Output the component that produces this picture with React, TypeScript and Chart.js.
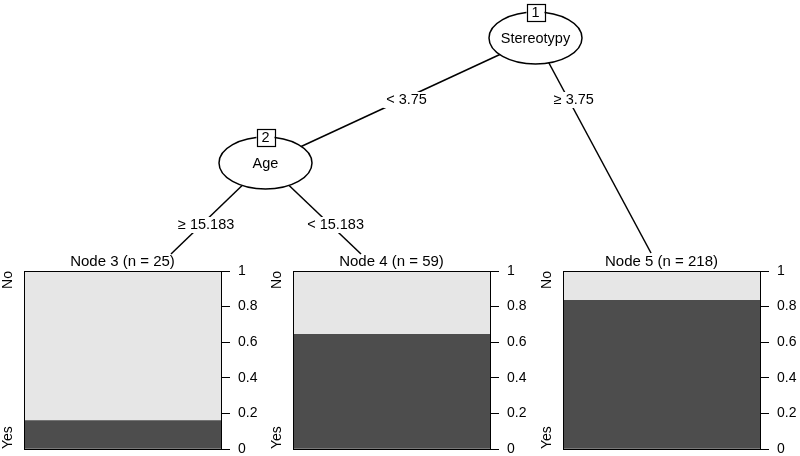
import React, { useEffect, useRef } from "react";
import { Chart, registerables } from "chart.js";
Chart.register(...registerables);

const FONT = '"Liberation Sans", Arial, Helvetica, sans-serif';
const FS_TREE = 14.5;
const FS_TITLE = 15;
const FS_TICK = 14;

// ---------- data ----------
const innerIds = [1, 2];
const innerVars = ["Stereotypy", "Age"];
const edgeFrom = [1, 1, 2, 2];
const edgeTo = [2, 5, 3, 4];
const edgeLabels = ["< 3.75", "\u2265 3.75", "\u2265 15.183", "< 15.183"];

const terminalIds = [3, 4, 5];
const terminalN = [25, 59, 218];
const classLabels = ["No", "Yes"];
const propYes = [0.16, 0.644, 0.835];
const propNo = [0.84, 0.356, 0.165];
const yTicks = [0, 0.2, 0.4, 0.6, 0.8, 1];

// ---------- layout (tree coordinates in a 800 x 456 frame) ----------
const nodePos: Record<number, { x: number; y: number }> = {
  1: { x: 535.5, y: 38 },
  2: { x: 265.5, y: 163 },
  3: { x: 171, y: 254 },
  4: { x: 361, y: 254 },
  5: { x: 651, y: 253 },
};
const edgeLabelLevel = [100, 100, 225, 225];
const ELL_RX = 46.5;
const ELL_RY = 26;
const panelLeft = [0, 269, 539];
const PANEL_TOP = 250;
const PANEL_H = 206;
const BOX_PAD_LEFT = 24;
const BOX_W = 197;
const RIGHT_AXIS_W = 40;

function TreeCanvas() {
  const ref = useRef<HTMLCanvasElement>(null);
  useEffect(() => {
    const datasets = edgeFrom.map((f, i) => ({
      type: "scatter" as const,
      data: [nodePos[f], nodePos[edgeTo[i]]],
      showLine: true,
      borderColor: "#000",
      borderWidth: 1.5,
      pointRadius: 0,
      fill: false,
    }));
    const treePlugin = {
      id: "tree",
      afterDatasetsDraw(chart: any) {
        const ctx = chart.ctx;
        const xs = chart.scales.x;
        const ys = chart.scales.y;
        ctx.save();
        ctx.font = `${FS_TREE}px ${FONT}`;
        ctx.textAlign = "center";
        ctx.textBaseline = "middle";
        // edge labels
        edgeFrom.forEach((f, i) => {
          const a = nodePos[f];
          const b = nodePos[edgeTo[i]];
          const ly = edgeLabelLevel[i];
          const t = (ly - a.y) / (b.y - a.y);
          const lx = a.x + (b.x - a.x) * t;
          const px = xs.getPixelForValue(lx) + 5;
          const py = ys.getPixelForValue(ly);
          const w = ctx.measureText(edgeLabels[i]).width;
          ctx.fillStyle = "#fff";
          ctx.fillRect(px - w / 2 - 3, py - 8, w + 6, 16);
          ctx.fillStyle = "#000";
          ctx.fillText(edgeLabels[i], px, py);
        });
        // inner nodes
        innerIds.forEach((id, i) => {
          const p = nodePos[id];
          const cx = xs.getPixelForValue(p.x);
          const cy = ys.getPixelForValue(p.y);
          ctx.beginPath();
          ctx.ellipse(cx, cy, ELL_RX, ELL_RY, 0, 0, Math.PI * 2);
          ctx.fillStyle = "#fff";
          ctx.fill();
          ctx.lineWidth = 1.5;
          ctx.strokeStyle = "#000";
          ctx.stroke();
          ctx.fillStyle = "#000";
          ctx.fillText(innerVars[i], cx, cy + 1);
          // id box
          const bw = 18, bh = 17;
          const by = cy - ELL_RY;
          ctx.fillStyle = "#fff";
          ctx.fillRect(cx - bw / 2, by - bh / 2, bw, bh);
          ctx.lineWidth = 1.2;
          ctx.strokeRect(Math.round(cx - bw / 2) + 0.5, Math.round(by - bh / 2) + 0.5, bw, bh);
          ctx.fillStyle = "#000";
          ctx.fillText(String(id), cx, by + 1);
        });
        ctx.restore();
      },
    };
    const chart = new Chart(ref.current!, {
      type: "scatter",
      data: { datasets },
      options: {
        animation: false,
        responsive: false,
        devicePixelRatio: 1,
        layout: { padding: 0 },
        plugins: { legend: { display: false }, tooltip: { enabled: false } },
        scales: {
          x: { type: "linear", min: 0, max: 800, display: false },
          y: { type: "linear", min: 0, max: 456, reverse: true, display: false },
        },
      },
      plugins: [treePlugin],
    } as any);
    return () => chart.destroy();
  }, []);
  return (
    <canvas
      ref={ref}
      width={800}
      height={456}
      style={{ position: "absolute", left: 0, top: 0, width: 800, height: 456 }}
    />
  );
}

function TerminalPanel({ idx }: { idx: number }) {
  const ref = useRef<HTMLCanvasElement>(null);
  const width = BOX_PAD_LEFT + BOX_W + RIGHT_AXIS_W;
  useEffect(() => {
    const panelPlugin = {
      id: "panel",
      afterDraw(chart: any) {
        const ctx = chart.ctx;
        const a = chart.chartArea;
        ctx.save();
        ctx.strokeStyle = "#000";
        ctx.lineWidth = 1;
        ctx.strokeRect(Math.round(a.left) + 0.5, Math.round(a.top) + 0.5, Math.round(a.right - a.left), Math.round(a.bottom - a.top));
        ctx.fillStyle = "#000";
        ctx.font = `${FS_TITLE}px ${FONT}`;
        ctx.textAlign = "center";
        ctx.textBaseline = "alphabetic";
        ctx.fillText(`Node ${terminalIds[idx]} (n = ${terminalN[idx]})`, (a.left + a.right) / 2, a.top - 5);
        // class labels, rotated
        ctx.font = `${FS_TICK}px ${FONT}`;
        ctx.translate(a.left - 9, 0);
        ctx.rotate(-Math.PI / 2);
        ctx.textBaseline = "bottom";
        ctx.textAlign = "right";
        ctx.fillText(classLabels[0], -a.top, 0);
        ctx.textAlign = "left";
        ctx.fillText(classLabels[1], -a.bottom, 0);
        ctx.restore();
      },
    };
    const chart = new Chart(ref.current!, {
      type: "bar",
      data: {
        labels: [""],
        datasets: [
          { label: classLabels[1], data: [propYes[idx]], backgroundColor: "#4D4D4D", borderWidth: 0, categoryPercentage: 1, barPercentage: 1 },
          { label: classLabels[0], data: [propNo[idx]], backgroundColor: "#E6E6E6", borderWidth: 0, categoryPercentage: 1, barPercentage: 1 },
        ],
      },
      options: {
        animation: false,
        responsive: false,
        devicePixelRatio: 1,
        layout: { padding: { left: BOX_PAD_LEFT, top: 21, bottom: 7, right: 0 } },
        plugins: { legend: { display: false }, tooltip: { enabled: false }, title: { display: false } },
        scales: {
          x: { stacked: true, display: false },
          y: {
            stacked: true,
            position: "right",
            min: 0,
            max: 1,
            afterBuildTicks(scale: any) {
              scale.ticks = yTicks.map((v) => ({ value: v }));
            },
            afterFit(scale: any) {
              scale.width = RIGHT_AXIS_W;
              scale.paddingTop = 0;
              scale.paddingBottom = 0;
            },
            ticks: {
              color: "#000",
              font: { family: FONT, size: FS_TICK },
              padding: 8,
              callback: (v: any) => String(v),
            },
            grid: { drawOnChartArea: false, drawTicks: true, tickLength: 9, color: "#000", lineWidth: 1 },
            border: { display: true, color: "#000", width: 1 },
          },
        },
      },
      plugins: [panelPlugin],
    } as any);
    return () => chart.destroy();
  }, [idx]);
  return (
    <canvas
      ref={ref}
      width={width}
      height={PANEL_H}
      style={{ position: "absolute", left: panelLeft[idx], top: PANEL_TOP, width, height: PANEL_H }}
    />
  );
}

export default function App() {
  useEffect(() => {
    document.body.style.margin = "0";
    document.body.style.background = "#fff";
  }, []);
  return (
    <div style={{ position: "relative", width: 800, height: 456, background: "#fff", overflow: "hidden" }}>
      <TreeCanvas />
      {terminalIds.map((_, i) => (
        <TerminalPanel key={i} idx={i} />
      ))}
    </div>
  );
}
